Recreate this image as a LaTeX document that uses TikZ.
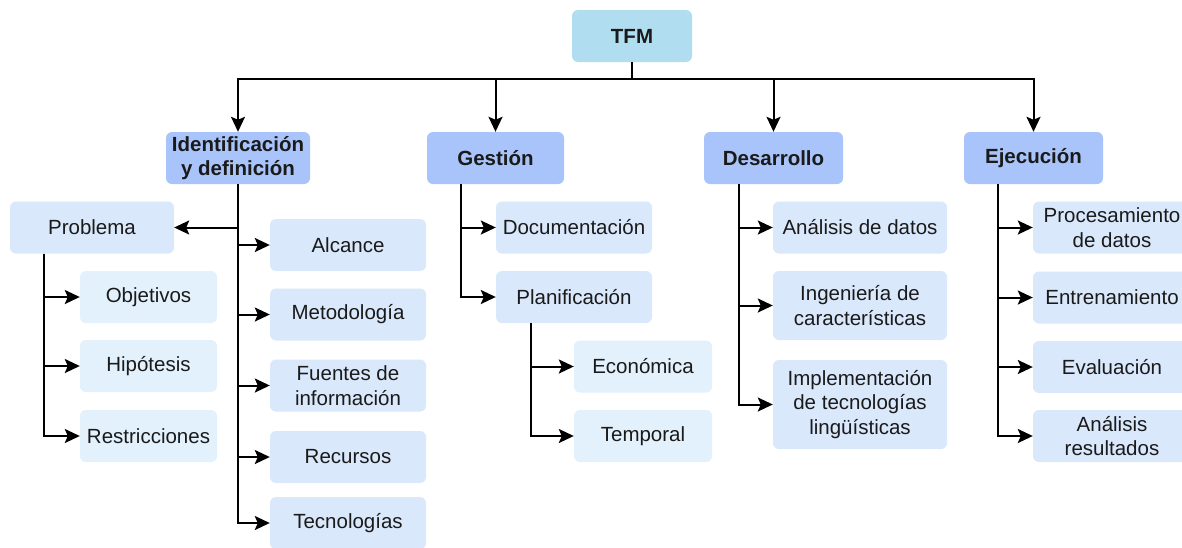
\documentclass[tikz,border=0pt]{standalone}
\usepackage{fontspec}
\setmainfont{Liberation Sans}
\usetikzlibrary{arrows.meta}
\definecolor{rootfill}{HTML}{B1DDF0}
\definecolor{mainfill}{HTML}{A9C4FA}
\definecolor{subfill}{HTML}{DAE8FC}
\definecolor{leaffill}{HTML}{E3F1FC}
\definecolor{ink}{HTML}{1A1A1A}
\tikzset{
  box/.style={rectangle, rounded corners=6pt, draw=none, inner sep=0pt,
    align=center, text=ink, font=\fontsize{20.5}{24.5}\selectfont,
    minimum height=52pt},
  rootbox/.style={box, fill=rootfill, font=\fontsize{20.5}{24.5}\selectfont\bfseries},
  mainbox/.style={box, fill=mainfill, font=\fontsize{20.5}{24.5}\selectfont\bfseries},
  subbox/.style={box, fill=subfill},
  leafbox/.style={box, fill=leaffill},
  arr/.style={draw=black, line width=2pt, -{Stealth[length=15pt, width=14pt, inset=3pt]}},
}
\begin{document}
\begin{tikzpicture}[x=1pt, y=-1pt]
\clip (0,0) rectangle (1182,547);
\fill[white] (0,0) rectangle (1182,547);

% root
\node[rootbox, minimum width=120pt] (tfm) at (632,36) {TFM};

% first level
\node[mainbox, minimum width=144pt] (idf) at (238,158) {Identificación\\y definición};
\node[mainbox, minimum width=137pt] (ges) at (495.5,158) {Gestión};
\node[mainbox, minimum width=139pt] (des) at (773.5,158) {Desarrollo};
\node[mainbox, minimum width=139pt] (eje) at (1033.5,158) {Ejecución};

% Identificación y definición
\node[subbox, minimum width=164pt] (prob) at (92,227.5) {Problema};
\node[subbox, minimum width=156pt] (alc) at (348,245) {Alcance};
\node[subbox, minimum width=156pt] (met) at (348,314.5) {Metodología};
\node[subbox, minimum width=156pt] (fue) at (348,385.5) {Fuentes de\\información};
\node[subbox, minimum width=156pt] (rec) at (348,457) {Recursos};
\node[subbox, minimum width=156pt] (tec) at (348,523) {Tecnologías};
\node[leafbox, minimum width=137pt] (obj) at (148.5,297) {Objetivos};
\node[leafbox, minimum width=137pt] (hip) at (148.5,366) {Hipótesis};
\node[leafbox, minimum width=137pt] (res) at (148.5,436) {Restricciones};

% Gestión
\node[subbox, minimum width=156pt] (doc) at (574,227.5) {Documentación};
\node[subbox, minimum width=156pt] (plan) at (574,297) {Planificación};
\node[leafbox, minimum width=138pt] (eco) at (643,366.5) {Económica};
\node[leafbox, minimum width=138pt] (tem) at (643,436) {Temporal};

% Desarrollo
\node[subbox, minimum width=174pt] (ana) at (860,227.5) {Análisis de datos};
\node[subbox, minimum width=174pt, minimum height=69pt] (ing) at (860,305.5) {Ingeniería de\\características};
\node[subbox, minimum width=174pt, minimum height=89pt] (imp) at (860,404.5) {Implementación\\de tecnologías\\lingüísticas};

% Ejecución
\node[subbox, minimum width=158pt] (pro) at (1112,227.5) {Procesamiento\\de datos};
\node[subbox, minimum width=158pt] (ent) at (1112,297.5) {Entrenamiento};
\node[subbox, minimum width=158pt] (eva) at (1112,367) {Evaluación};
\node[subbox, minimum width=158pt] (anr) at (1112,436) {Análisis\\resultados};

% root to first level
\foreach \n in {idf,ges,des,eje}
  \draw[arr] (tfm.south) -- ++(0,17) -| (\n.north);

% Identificación y definición branches
\draw[arr] (idf.south) |- (prob.east);
\foreach \n in {alc,met,fue,rec,tec}
  \draw[arr] (idf.south) |- (\n.west);
\foreach \n in {obj,hip,res}
  \draw[arr] (prob.south west) ++(34,0) |- (\n.west);

% Gestión branches
\foreach \n in {doc,plan}
  \draw[arr] (ges.south west) ++(34,0) |- (\n.west);
\foreach \n in {eco,tem}
  \draw[arr] (plan.south west) ++(35,0) |- (\n.west);

% Desarrollo branches
\foreach \n in {ana,ing,imp}
  \draw[arr] (des.south west) ++(35,0) |- (\n.west);

% Ejecución branches
\foreach \n in {pro,ent,eva,anr}
  \draw[arr] (eje.south west) ++(34,0) |- (\n.west);
\end{tikzpicture}
\end{document}
